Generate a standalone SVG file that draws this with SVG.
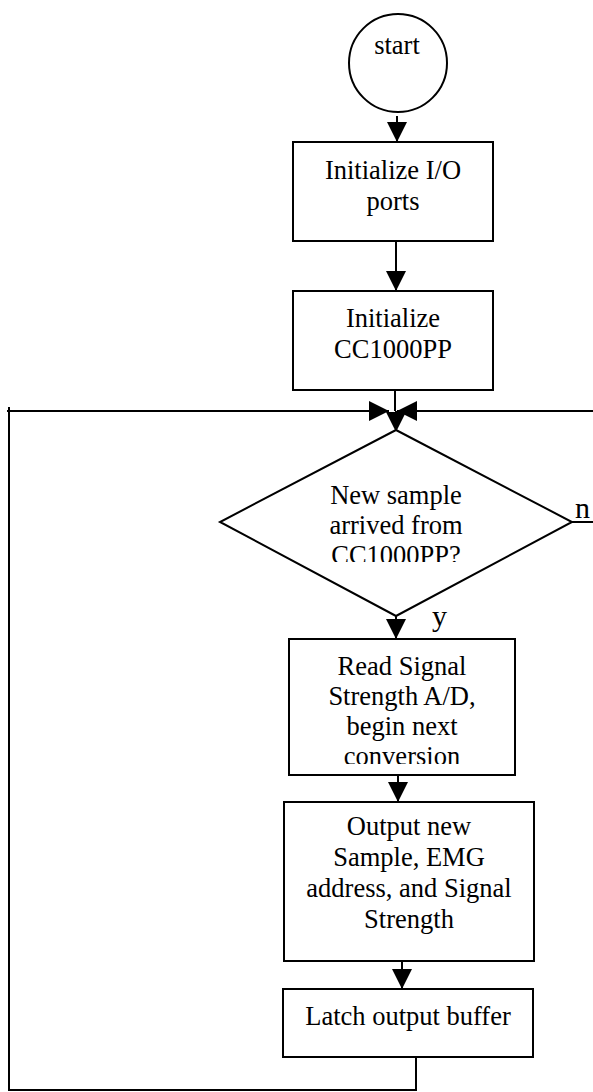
<svg xmlns="http://www.w3.org/2000/svg" width="593" height="1092" viewBox="0 0 593 1092">
  <style>
    .shape { fill: #ffffff; stroke: #000000; stroke-width: 2; }
    .label { font-family: "Liberation Serif", "Times New Roman", serif; font-size: 26.5px; fill: #000000; text-anchor: middle; }
    .branch { font-family: "Liberation Serif", "Times New Roman", serif; font-size: 30px; fill: #000000; }
    .wire { fill: none; stroke: #000000; stroke-width: 2; }
  </style>
  <defs>
    <marker id="arrow" viewBox="0 0 20 20" refX="20" refY="10" markerWidth="20" markerHeight="20" markerUnits="userSpaceOnUse" orient="auto">
      <path d="M0,0 L20,10 L0,20 Z" fill="#000000"/>
    </marker>
    <!-- text frames cut the last line of the decision and of the A/D step -->
    <clipPath id="clip-decision"><rect x="200" y="470" width="400" height="92"/></clipPath>
    <clipPath id="clip-read"><rect x="289" y="639" width="226" height="125"/></clipPath>
  </defs>

  <rect width="593" height="1092" fill="#ffffff"/>

  <g id="connectors">
    <line class="wire" x1="397" y1="116" x2="397" y2="142" marker-end="url(#arrow)"/>
    <line class="wire" x1="396" y1="241" x2="396" y2="291" marker-end="url(#arrow)"/>
    <polyline class="wire" points="395,391 395,411"/>
    <line class="wire" x1="396" y1="411" x2="396" y2="432" marker-end="url(#arrow)"/>
    <!-- loop back from the latch step -->
    <polyline class="wire" points="416,1057 416,1090 9,1090 9,407"/>
    <line class="wire" x1="7" y1="411" x2="389" y2="411" marker-end="url(#arrow)"/>
    <!-- "n" branch returns along the right edge -->
    <polyline class="wire" points="572,522 600,522 600,411 397,411" marker-end="url(#arrow)"/>
    <line class="wire" x1="396" y1="616" x2="396" y2="639" marker-end="url(#arrow)"/>
    <line class="wire" x1="398" y1="775" x2="398" y2="802" marker-end="url(#arrow)"/>
    <line class="wire" x1="402" y1="961" x2="402" y2="989" marker-end="url(#arrow)"/>
  </g>

  <g id="start">
    <circle class="shape" cx="398" cy="63" r="49"/>
    <text class="label" x="397" y="54">start</text>
  </g>

  <g id="init-io">
    <rect class="shape" x="293" y="142" width="200" height="99"/>
    <text class="label" x="393" y="179">Initialize I/O</text>
    <text class="label" x="393" y="210">ports</text>
  </g>

  <g id="init-cc1000">
    <rect class="shape" x="293" y="291" width="200" height="99"/>
    <text class="label" x="393" y="327">Initialize</text>
    <text class="label" x="393" y="358">CC1000PP</text>
  </g>

  <g id="new-sample">
    <polygon class="shape" points="396,430 572,522 396,616 220,522"/>
    <g clip-path="url(#clip-decision)">
      <text class="label" x="396" y="504">New sample</text>
      <text class="label" x="396" y="534">arrived from</text>
      <text class="label" x="396" y="564">CC1000PP?</text>
    </g>
    <text class="branch" x="575" y="518">n</text>
    <text class="branch" x="432" y="626">y</text>
  </g>

  <g id="read-signal">
    <rect class="shape" x="289" y="639" width="226" height="136"/>
    <g clip-path="url(#clip-read)">
      <text class="label" x="402" y="675">Read Signal</text>
      <text class="label" x="402" y="705">Strength A/D,</text>
      <text class="label" x="402" y="735">begin next</text>
      <text class="label" x="402" y="765">conversion</text>
    </g>
  </g>

  <g id="output-sample">
    <rect class="shape" x="284" y="802" width="250" height="159"/>
    <text class="label" x="409" y="835">Output new</text>
    <text class="label" x="409" y="866">Sample, EMG</text>
    <text class="label" x="409" y="897">address, and Signal</text>
    <text class="label" x="409" y="928">Strength</text>
  </g>

  <g id="latch-buffer">
    <rect class="shape" x="283" y="989" width="250" height="68"/>
    <text class="label" x="408" y="1025">Latch output buffer</text>
  </g>
</svg>
